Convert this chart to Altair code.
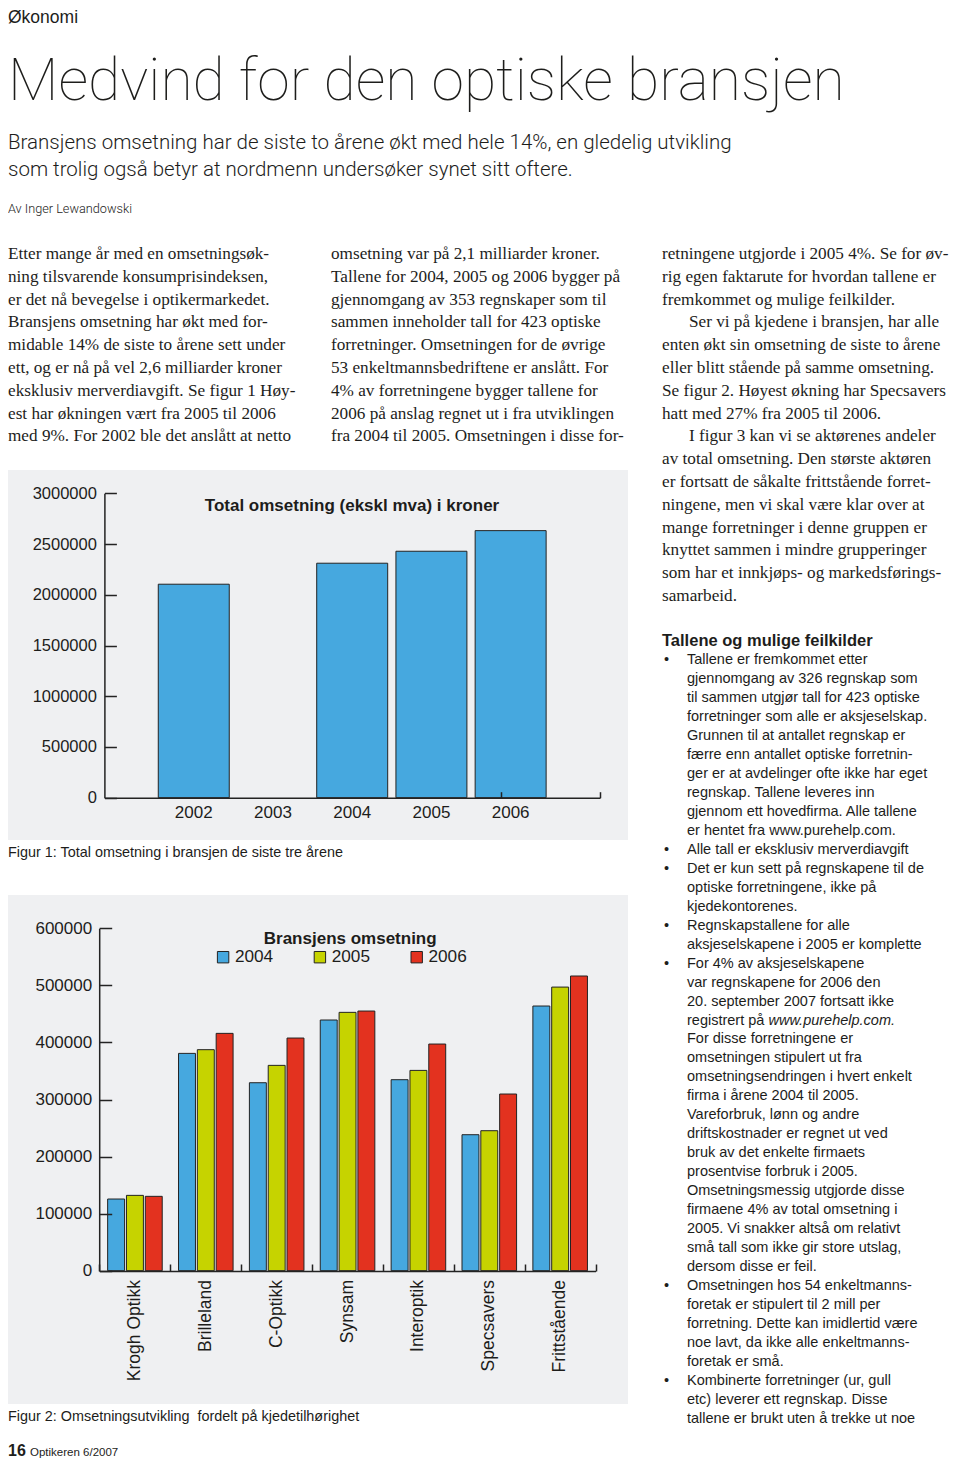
import altair as alt
import pandas as pd

# ------------------------------------------------------------------ layout helpers
W, H = 944, 1450


def X(rx):
    return max(rx - 8.0, 0.0)


def Y(ry):
    return ry - 8.0


SANS = "Liberation Sans"
SERIF = "Liberation Serif"
THIN = "Roboto"
INK = "#1d1d1b"
PANEL = "#eff0f2"
EDGE = "#232323"

# ------------------------------------------------------------------ data
years = ["2002", "2003", "2004", "2005", "2006"]
total_revenue = [2104000, None, 2311000, 2429000, 2632000]
total_ticks = [0, 500000, 1000000, 1500000, 2000000, 2500000, 3000000]

chains = ["Krogh Optikk", "Brilleland", "C-Optikk", "Synsam", "Interoptik",
          "Specsavers", "Frittstående"]
series_years = ["2004", "2005", "2006"]
rev_2004 = [125600, 380800, 329400, 439300, 334700, 238300, 463800]
rev_2005 = [132000, 387300, 359800, 452700, 351000, 245300, 497000]
rev_2006 = [130300, 415900, 407700, 455000, 397200, 309600, 516400]
series_colors = ["#46a8df", "#c6d300", "#e3321f"]
chain_ticks = [0, 100000, 200000, 300000, 400000, 500000, 600000]

kicker = "Økonomi"
headline = "Medvind for den optiske bransjen"
ingress = ["Bransjens omsetning har de siste to årene økt med hele 14%, en gledelig utvikling",
           "som trolig også betyr at nordmenn undersøker synet sitt oftere."]
byline = "Av Inger Lewandowski"

col1 = ["Etter mange år med en omsetningsøk-",
        "ning tilsvarende konsumprisindeksen,",
        "er det nå bevegelse i optikermarkedet.",
        "Bransjens omsetning har økt med for-",
        "midable 14% de siste to årene sett under",
        "ett, og er nå på vel 2,6 milliarder kroner",
        "eksklusiv merverdiavgift.  Se figur 1 Høy-",
        "est har økningen vært fra 2005 til 2006",
        "med 9%. For 2002 ble det anslått at netto"]
col2 = ["omsetning var på 2,1 milliarder kroner.",
        "Tallene for 2004, 2005 og 2006 bygger på",
        "gjennomgang av 353 regnskaper som til",
        "sammen inneholder tall for 423 optiske",
        "forretninger. Omsetningen for de øvrige",
        "53 enkeltmannsbedriftene er anslått. For",
        "4% av forretningene bygger tallene for",
        "2006 på anslag regnet ut i fra utviklingen",
        "fra 2004 til 2005. Omsetningen i disse for-"]
col3 = ["retningene utgjorde i 2005 4%. Se for øv-",
        "rig egen faktarute for hvordan tallene er",
        "fremkommet og mulige feilkilder.",
        "Ser vi på kjedene i bransjen, har alle",
        "enten økt sin omsetning de siste to årene",
        "eller blitt stående på samme omsetning.",
        "Se figur 2. Høyest økning har Specsavers",
        "hatt med 27% fra 2005 til 2006.",
        "I figur 3 kan vi se aktørenes andeler",
        "av total omsetning. Den største aktøren",
        "er fortsatt de såkalte frittstående forret-",
        "ningene, men vi skal være klar over at",
        "mange forretninger i denne gruppen er",
        "knyttet sammen i mindre grupperinger",
        "som har et innkjøps- og markedsførings-",
        "samarbeid."]
col3_indented = [3, 8]

box_title = "Tallene og mulige feilkilder"
box_lines = ["Tallene er fremkommet etter",
             "gjennomgang av 326 regnskap som",
             "til sammen utgjør tall for 423 optiske",
             "forretninger som alle er aksjeselskap.",
             "Grunnen til at antallet regnskap er",
             "færre enn antallet optiske forretnin-",
             "ger er at avdelinger ofte ikke har eget",
             "regnskap. Tallene leveres inn",
             "gjennom ett hovedfirma. Alle tallene",
             "er hentet fra www.purehelp.com.",
             "Alle tall er eksklusiv merverdiavgift",
             "Det er kun sett på regnskapene til de",
             "optiske forretningene, ikke på",
             "kjedekontorenes.",
             "Regnskapstallene for alle",
             "aksjeselskapene i 2005 er komplette",
             "For 4% av aksjeselskapene",
             "var regnskapene for 2006 den",
             "20. september 2007 fortsatt ikke",
             "registrert på",
             "For disse forretningene er",
             "omsetningen stipulert ut fra",
             "omsetningsendringen i hvert enkelt",
             "firma i årene 2004 til 2005.",
             "Vareforbruk, lønn og andre",
             "driftskostnader er regnet ut ved",
             "bruk av det enkelte firmaets",
             "prosentvise forbruk i 2005.",
             "Omsetningsmessig utgjorde disse",
             "firmaene 4% av total omsetning i",
             "2005. Vi snakker altså om relativt",
             "små tall som ikke gir store utslag,",
             "dersom disse er feil.",
             "Omsetningen hos 54 enkeltmanns-",
             "foretak er stipulert til 2 mill per",
             "forretning. Dette kan imidlertid være",
             "noe lavt, da ikke alle enkeltmanns-",
             "foretak er små.",
             "Kombinerte forretninger (ur, gull",
             "etc) leverer ett regnskap. Disse",
             "tallene er brukt uten å trekke ut noe"]
box_bullets = [0, 10, 11, 14, 16, 33, 38]
box_italic_line = 19
box_italic_text = "www.purehelp.com."

fig1_title = "Total omsetning (ekskl mva) i kroner"
fig1_caption = "Figur 1: Total omsetning i bransjen de siste tre årene"
fig2_title = "Bransjens omsetning"
fig2_caption = "Figur 2: Omsetningsutvikling\u00a0 fordelt på kjedetilhørighet"
folio = "16"
magazine = "Optikeren 6/2007"

# ------------------------------------------------------------------ tables
one = pd.DataFrame({"k": [0]})
df1 = pd.DataFrame({"year": years, "value": total_revenue})
df2 = pd.DataFrame({
    "chain": chains * 3,
    "year": [y for y in series_years for _ in chains],
    "value": rev_2004 + rev_2005 + rev_2006,
})


def txt(lines, x, y, size, font=SANS, weight="normal", style="normal",
        lh=None, align="left", color=INK):
    kw = dict(text=lines, align=align, baseline="alphabetic", font=font,
              fontSize=size, fontWeight=weight, fontStyle=style, color=color)
    if lh is not None:
        kw["lineHeight"] = lh
    return alt.Chart(one).mark_text(**kw).encode(x=alt.value(x), y=alt.value(y))


def panel(x0, x1, y0, y1):
    return alt.Chart(one).mark_rect(color=PANEL).encode(
        x=alt.value(X(x0)), x2=alt.value(X(x1)), y=alt.value(Y(y0)), y2=alt.value(Y(y1)))


axis_style = dict(labelFont=SANS, labelColor=INK, domainColor=EDGE, tickColor=EDGE,
                  domainWidth=1.5, tickWidth=1.5, grid=False, title=None, zindex=2)
tick_style = dict(tickColor=EDGE, tickWidth=1.5, grid=False, title=None,
                  labels=False, domain=False, zindex=2)

layers = []

# ------------------------------------------------------------------ header
layers.append(txt(kicker, 0, 15, 17.5))
layers.append(txt(headline, 0, Y(99.5), 58.8, font=THIN, weight=100))
layers.append(txt(ingress, 0, Y(149), 20.5, font=THIN, weight=300, lh=26.7))
layers.append(txt(byline, 0, Y(213), 12.7, font=THIN, weight=300))

# ------------------------------------------------------------------ serif body
LH = 22.8
B0 = Y(259)
SERIF_SIZE = 17.2
layers.append(txt(col1, X(0), B0, SERIF_SIZE, font=SERIF, lh=LH))
layers.append(txt(col2, X(331), B0, SERIF_SIZE, font=SERIF, lh=LH))
start = 0
cuts = col3_indented + [len(col3)]
for cut in cuts:
    if cut > start:
        layers.append(txt(col3[start:cut], X(662), B0 + start * LH, SERIF_SIZE, font=SERIF, lh=LH))
    if cut < len(col3):
        layers.append(txt([col3[cut]], X(689), B0 + cut * LH, SERIF_SIZE, font=SERIF))
    start = cut + 1

# ------------------------------------------------------------------ fact box
BL = 18.96
BB = Y(664.3)
layers.append(txt(box_title, X(662), Y(645.7), 16.5, weight="bold"))
layers.append(txt(box_lines, X(687), BB, 14.5, lh=BL))
for i in box_bullets:
    layers.append(txt("•", X(664), BB + i * BL, 14.5))
layers.append(txt(box_italic_text, X(768.5), BB + box_italic_line * BL, 14.5, style="italic"))

# ------------------------------------------------------------------ figure 1
layers.append(panel(0, 628, 470, 840))
x1_scale = alt.Scale(domain=years, range=[X(104.4), X(600)], paddingInner=0.104, paddingOuter=0.68)
y1_scale = alt.Scale(domain=[0, 3000000], range=[Y(797.7), Y(493.3)], nice=False)
layers.append(
    alt.Chart(df1).mark_bar(color=series_colors[0], stroke=EDGE, strokeWidth=1).encode(
        x=alt.X("year:N", sort=years, scale=x1_scale,
                axis=alt.Axis(orient="bottom", offset=Y(797.7) - H, tickSize=0, labelPadding=7,
                              labelFontSize=17, labelAngle=0, **axis_style)),
        y=alt.Y("value:Q", scale=y1_scale,
                axis=alt.Axis(orient="left", offset=-X(104.4), values=total_ticks, format="d",
                              tickSize=0, labelPadding=8, labelFontSize=16.5, **axis_style)),
    )
)
layers.append(
    alt.Chart(df1).mark_point(opacity=0).encode(
        y=alt.Y("value:Q", scale=y1_scale,
                axis=alt.Axis(orient="right", offset=X(104.4) - W, values=total_ticks,
                              tickSize=12, **tick_style)),
    )
)
# closing tick at the right end of the year axis
layers.append(
    alt.Chart(df1).mark_point(opacity=0).encode(
        x=alt.X("year:N", sort=years,
                scale=alt.Scale(domain=years, range=[X(104.4), X(600)], paddingInner=0, paddingOuter=0),
                axis=alt.Axis(orient="top", offset=-Y(797.7), tickBand="extent", tickSize=6,
                              values=[years[-1]], **tick_style)),
    )
)
layers.append(txt(fig1_title, X(352), Y(511), 17, weight="bold", align="center"))
layers.append(txt(fig1_caption, X(0), Y(857), 14.4))

# ------------------------------------------------------------------ figure 2
layers.append(panel(0, 628, 895, 1404))
x2_scale = alt.Scale(domain=chains, range=[X(99.5), X(595.6)], paddingInner=0.23, paddingOuter=0.115)
y2_scale = alt.Scale(domain=[0, 600000], range=[Y(1270.7), Y(928.3)], nice=False)
layers.append(
    alt.Chart(df2).mark_bar(stroke=EDGE, strokeWidth=1).encode(
        x=alt.X("chain:N", sort=chains, scale=x2_scale,
                axis=alt.Axis(orient="bottom", offset=Y(1271) - H, tickSize=0, labelAngle=270,
                              labelAlign="right", labelBaseline="middle", labelPadding=8.5,
                              labelFontSize=17.5, **axis_style)),
        xOffset=alt.XOffset("year:N", sort=series_years,
                            scale=alt.Scale(domain=series_years, paddingInner=0.1, paddingOuter=0)),
        y=alt.Y("value:Q", scale=y2_scale,
                axis=alt.Axis(orient="left", offset=-X(99.2), values=chain_ticks, format="d",
                              tickSize=0, labelPadding=7.5, labelFontSize=17, **axis_style)),
        color=alt.Color("year:N", sort=series_years,
                        scale=alt.Scale(domain=series_years, range=series_colors),
                        legend=alt.Legend(title=None, orient="none", legendX=X(214.5),
                                          legendY=Y(948.5), direction="horizontal",
                                          symbolType="square", symbolSize=130,
                                          symbolStrokeColor=EDGE, symbolStrokeWidth=1,
                                          symbolOpacity=1, labelFont=SANS, labelFontSize=17.2,
                                          labelColor=INK, labelOffset=3.2, columnPadding=37.8,
                                          padding=0, zindex=2)),
    )
)
layers.append(
    alt.Chart(df2).mark_point(opacity=0).encode(
        y=alt.Y("value:Q", scale=y2_scale,
                axis=alt.Axis(orient="right", offset=X(99.2) - W, values=chain_ticks,
                              tickSize=12.5, **tick_style)),
    )
)
layers.append(
    alt.Chart(df2).mark_point(opacity=0).encode(
        x=alt.X("chain:N", sort=chains,
                scale=alt.Scale(domain=chains, range=[X(99.5), X(595.6)], paddingInner=0, paddingOuter=0),
                axis=alt.Axis(orient="top", offset=-Y(1271), tickBand="extent", tickSize=7,
                              **tick_style)),
    )
)
layers.append(txt(fig2_title, X(350.2), Y(943.5), 17, weight="bold", align="center"))
layers.append(txt(fig2_caption, X(0), Y(1421), 14.4))

# ------------------------------------------------------------------ footer
layers.append(txt(folio, X(0), 1448, 16, weight="bold"))
layers.append(txt(magazine, X(30), 1448, 11.5))

chart = (
    alt.layer(*layers)
    .resolve_scale(x="independent", y="independent", color="independent")
    .properties(width=W, height=H, padding=0, autosize=alt.AutoSizeParams(type="none"),
                background="white")
    .configure_view(stroke=None)
)

chart.save("out.html", embed_options={"renderer": "svg", "actions": False})
